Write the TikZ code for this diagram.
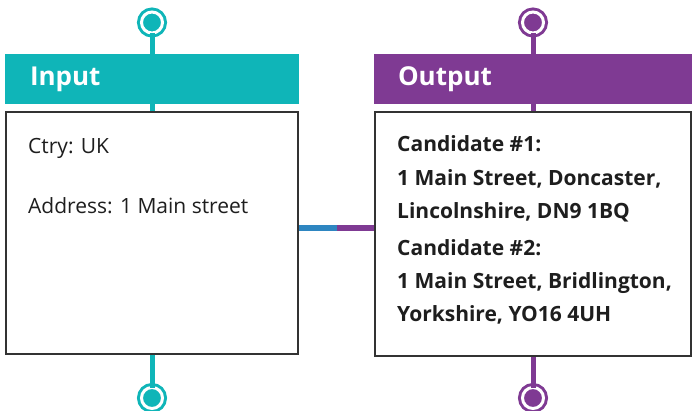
\documentclass[tikz,border=0pt]{standalone}
\usepackage{fontspec}
\setmainfont{Open Sans}
\definecolor{inteal}{HTML}{0FB5B8}
\definecolor{outpurple}{HTML}{7F3A93}
\definecolor{linkblue}{HTML}{2E86C1}
\definecolor{frame}{HTML}{333333}
\definecolor{ink}{HTML}{1E1E1E}
\tikzset{
	pin/.style={circle,inner sep=0pt,outer sep=0pt,minimum size=21pt,fill=#1,draw=#1,line width=3pt,double=white,double distance=3pt},
	stem/.style={draw=#1,line width=5pt},
	head/.style 2 args={fill=#1,text=white,inner ysep=0pt,inner xsep=#2,minimum height=50pt,align=left,font=\fontsize{26}{30}\selectfont\bfseries},
	card/.style={draw=frame,line width=2pt,fill=white,inner sep=0pt},
	txt/.style={anchor=base west,inner sep=0pt,text=ink,font=\fontsize{21}{25}\selectfont},
	btxt/.style={anchor=base west,inner sep=0pt,text=ink,font=\fontsize{21}{25}\selectfont\bfseries}
}
\begin{document}
\begin{tikzpicture}[x=1pt,y=-1pt]
						\useasboundingbox (0,0) rectangle (693,411);
						\clip (0,0) rectangle (693,411);
						\node [pin=inteal] (intop) at (152,22.5) {};
						\node [pin=outpurple] (outtop) at (533,22.5) {};
						\node [card,minimum width=292pt,minimum height=242pt] (inbox) at (152,233) {};
						\node [card,minimum width=316pt,minimum height=244pt] (outbox) at (533,234) {};
						\node [head={inteal}{25pt},text width=244pt] (inhead) at (152,79) {Input};
						\node [head={outpurple}{24pt},text width=270pt] (outhead) at (533,79) {Output};
						\node [pin=inteal] (inbot) at (152,398) {};
						\node [pin=outpurple] (outbot) at (533,398) {};
						
						\draw [stem=inteal] (intop.south) -- (inbox.north);
						\draw [stem=outpurple] (outtop.south) -- (outbox.north);
						\draw [stem=inteal] (inbox.south) -- (inbot.north);
						\draw [stem=outpurple] (outbox.south) -- (outbot.north);
						\coordinate (link) at (336.5,228);
						\draw [linkblue,line width=6pt] (inbox.east |- link) -- (link);
						\draw [outpurple,line width=6pt] (link) -- (outbox.west |- link);
						
						\node [txt] (ctry) at (28,154) {Ctry: UK};
						\node [txt] (addr) at (28,214) {Address: 1 Main street};
						\node [btxt] (cand1) at (397,152) {Candidate \#1:};
						\node [btxt] (cand1a) at (397,186) {1 Main Street, Doncaster,};
						\node [btxt] (cand1b) at (397,219) {Lincolnshire, DN9 1BQ};
						\node [btxt] (cand2) at (397,256) {Candidate \#2:};
						\node [btxt] (cand2a) at (397,289) {1 Main Street, Bridlington,};
						\node [btxt] (cand2b) at (397,322) {Yorkshire, YO16 4UH};
					\end{tikzpicture}
\end{document}
